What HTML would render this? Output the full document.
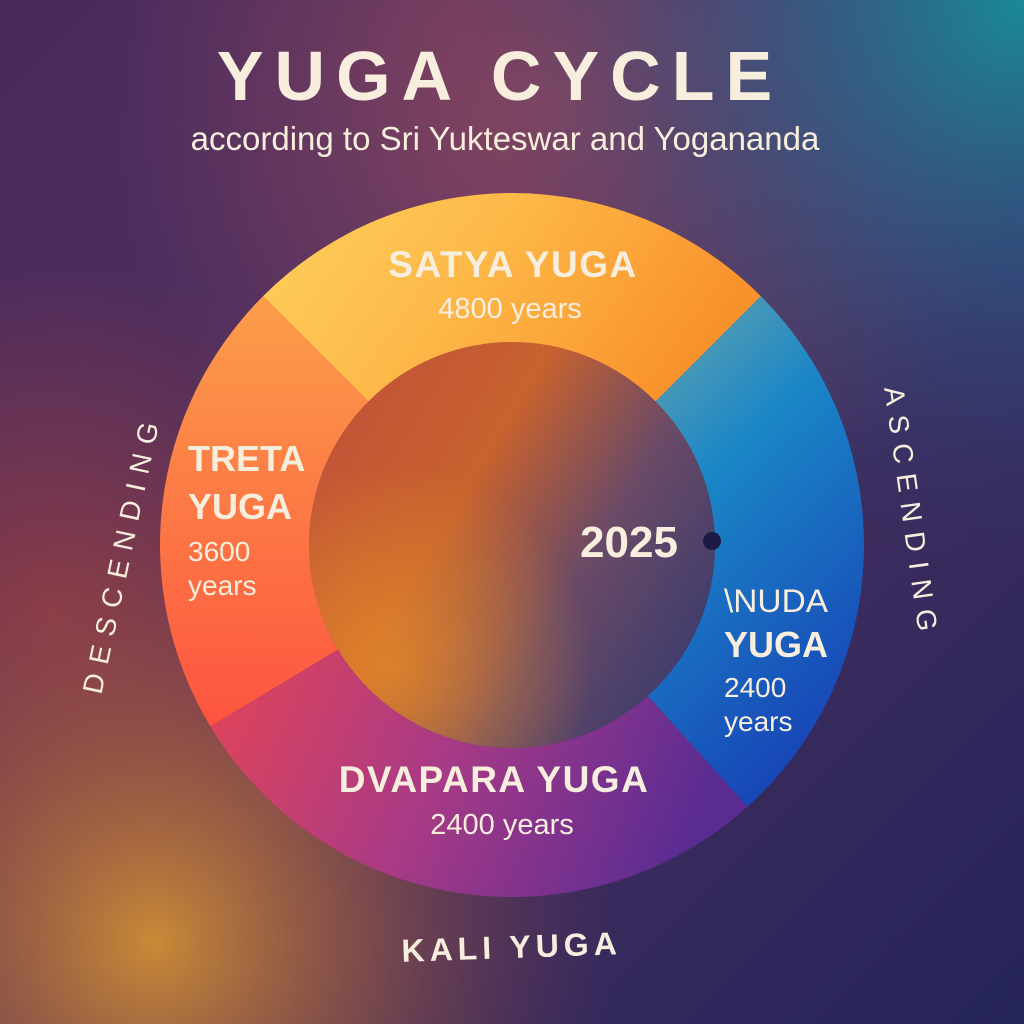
<!DOCTYPE html>
<html><head><meta charset="utf-8"><style>
html,body{margin:0;padding:0;width:1024px;height:1024px;overflow:hidden;background:#3a2a5a}
svg{display:block}
text{font-family:"Liberation Sans","DejaVu Sans",sans-serif;fill:#f8eedd}
</style></head><body>
<svg width="1024" height="1024" viewBox="0 0 1024 1024" xmlns="http://www.w3.org/2000/svg">
<defs>
<linearGradient id="bg" x1="0" y1="0" x2="1" y2="1">
<stop offset="0" stop-color="#4a2a5c"/><stop offset="0.5" stop-color="#4a3060"/><stop offset="1" stop-color="#24245a"/>
</linearGradient>
<radialGradient id="tr" cx="1" cy="0" r="0.55"><stop offset="0" stop-color="#1a8a9a"/><stop offset="0.5" stop-color="#2a5a88" stop-opacity="0.6"/><stop offset="1" stop-color="#2a3a70" stop-opacity="0"/></radialGradient>
<radialGradient id="tm" cx="0.55" cy="0.1" r="0.45"><stop offset="0" stop-color="#8a4660"/><stop offset="1" stop-color="#8a4660" stop-opacity="0"/></radialGradient>
<radialGradient id="bl" cx="0.15" cy="0.92" r="0.45"><stop offset="0" stop-color="#c98a36"/><stop offset="0.45" stop-color="#a8603e" stop-opacity="0.6"/><stop offset="1" stop-color="#7a3a4a" stop-opacity="0"/></radialGradient>
<radialGradient id="lm" cx="0.05" cy="0.6" r="0.35"><stop offset="0" stop-color="#8a3a48"/><stop offset="1" stop-color="#8a3a48" stop-opacity="0"/></radialGradient>
<linearGradient id="gs" x1="0" y1="0" x2="1" y2="0.3"><stop offset="0" stop-color="#fed15e"/><stop offset="0.5" stop-color="#fdb747"/><stop offset="1" stop-color="#f9922c"/></linearGradient>
<linearGradient id="gt" x1="0" y1="0" x2="0" y2="1"><stop offset="0" stop-color="#fc9e4a"/><stop offset="1" stop-color="#fd5440"/></linearGradient>
<linearGradient id="gd" x1="0" y1="0" x2="1" y2="0.2"><stop offset="0" stop-color="#e44556"/><stop offset="0.5" stop-color="#a83a86"/><stop offset="1" stop-color="#5a2c92"/></linearGradient>
<linearGradient id="ga" x1="0" y1="0" x2="0.4" y2="1"><stop offset="0" stop-color="#6aa6ac"/><stop offset="0.4" stop-color="#1a86c6"/><stop offset="1" stop-color="#1848b8"/></linearGradient>
<linearGradient id="gi" x1="0" y1="0.1" x2="1" y2="0.7"><stop offset="0" stop-color="#c0503a"/><stop offset="0.4" stop-color="#c8622e"/><stop offset="0.7" stop-color="#6a4a66"/><stop offset="1" stop-color="#3e3c6c"/></linearGradient>
<radialGradient id="gi2" cx="0.2" cy="0.8" r="0.5"><stop offset="0" stop-color="#e48a2a" stop-opacity="0.8"/><stop offset="1" stop-color="#e48a2a" stop-opacity="0"/></radialGradient>
</defs>
<rect width="1024" height="1024" fill="url(#bg)"/>
<rect width="1024" height="1024" fill="url(#tm)"/>
<rect width="1024" height="1024" fill="url(#lm)"/>
<rect width="1024" height="1024" fill="url(#tr)"/>
<rect width="1024" height="1024" fill="url(#bl)"/>

<path d="M263.1,296.1 A352,352 0 0 1 760.9,296.1 L655.5,401.5 A203,203 0 0 0 368.5,401.5 Z" fill="url(#gs)"/>
<path d="M760.9,296.1 A352,352 0 0 1 747.5,806.6 L647.8,695.9 A203,203 0 0 0 655.5,401.5 Z" fill="url(#ga)"/>
<path d="M747.5,806.6 A352,352 0 0 1 210.3,726.3 L338.0,649.5 A203,203 0 0 0 647.8,695.9 Z" fill="url(#gd)"/>
<path d="M210.3,726.3 A352,352 0 0 1 263.1,296.1 L368.5,401.5 A203,203 0 0 0 338.0,649.5 Z" fill="url(#gt)"/>
<circle cx="512" cy="545" r="203" fill="url(#gi)"/>
<circle cx="512" cy="545" r="203" fill="url(#gi2)"/>

<text x="500" y="100" text-anchor="middle" font-size="70" font-weight="bold" letter-spacing="11">YUGA CYCLE</text>
<text x="505" y="150" text-anchor="middle" font-size="33">according to Sri Yukteswar and Yogananda</text>

<text x="513" y="277" text-anchor="middle" font-size="37" font-weight="bold" letter-spacing="1.5">SATYA YUGA</text>
<text x="510" y="318" text-anchor="middle" font-size="29">4800 years</text>

<text x="188" y="471" font-size="36" font-weight="bold">TRETA</text>
<text x="188" y="519" font-size="36" font-weight="bold">YUGA</text>
<text x="188" y="561" font-size="28">3600</text>
<text x="188" y="595" font-size="28">years</text>

<text x="494" y="792" text-anchor="middle" font-size="37" font-weight="bold" letter-spacing="1.5">DVAPARA YUGA</text>
<text x="502" y="834" text-anchor="middle" font-size="29">2400 years</text>

<text x="724" y="612" font-size="32" textLength="104" lengthAdjust="spacingAndGlyphs">\NUDA</text>
<text x="724" y="657" font-size="36" font-weight="bold">YUGA</text>
<text x="724" y="697" font-size="28">2400</text>
<text x="724" y="731" font-size="28">years</text>

<text x="629" y="557" text-anchor="middle" font-size="44" font-weight="bold">2025</text>
<circle cx="712" cy="541" r="9" fill="#1c1a44"/>

<text transform="translate(131,555) rotate(-78)" text-anchor="middle" font-size="28" letter-spacing="10">DESCENDING</text>
<text transform="translate(902,515) rotate(82)" text-anchor="middle" font-size="28" letter-spacing="10">ASCENDING</text>
<text transform="translate(512,958) rotate(-2)" text-anchor="middle" font-size="32" font-weight="bold" letter-spacing="5">KALI YUGA</text>
</svg>
</body></html>
